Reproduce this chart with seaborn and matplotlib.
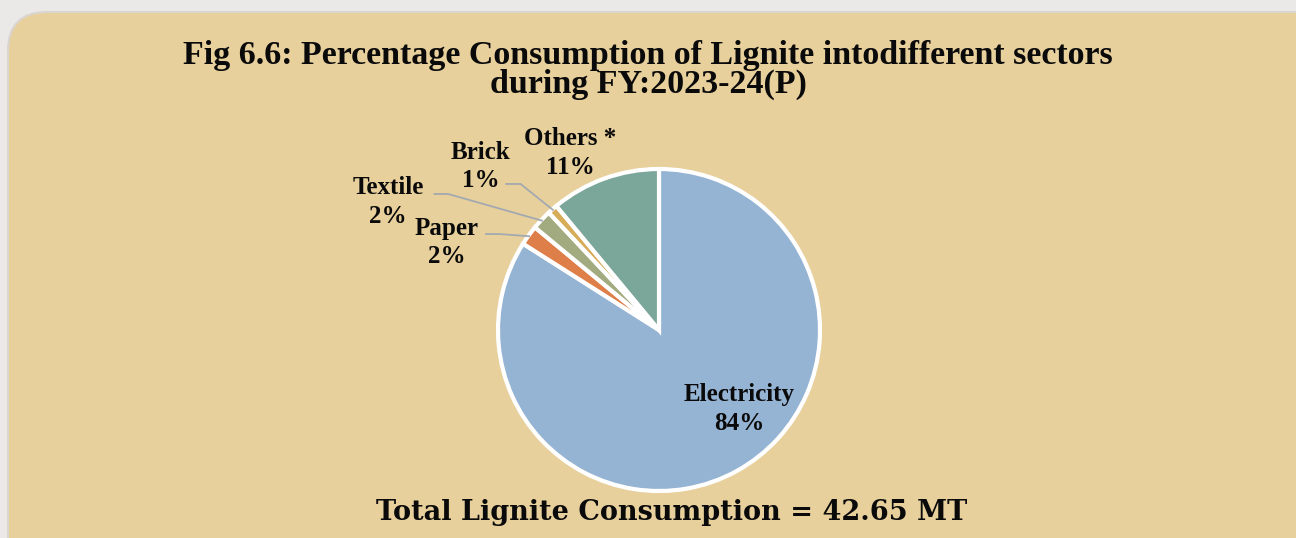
import numpy as np
import seaborn as sns
import matplotlib.pyplot as plt
from matplotlib.patches import FancyBboxPatch

# data
sectors = ["Electricity", "Paper", "Textile", "Brick", "Others *"]
shares = [84, 2, 2, 1, 11]
colors = ["#95B3D3", "#DE7E48", "#A2AA7F", "#D6AC58", "#7BA69A"]

title = "Fig 6.6: Percentage Consumption of Lignite intodifferent sectors\nduring FY:2023-24(P)"
footer = "Total Lignite Consumption = 42.65 MT"

sns.set_theme(style="white")
plt.rcParams["font.family"] = ["Liberation Serif", "DejaVu Serif"]

W, H = 1296, 538
fig = plt.figure(figsize=(W / 100, H / 100), dpi=100)
fig.patch.set_facecolor("#EBE8E8")

# tan rounded panel, behind the axes
panel = FancyBboxPatch((8 / W, -0.1), 1.2, (H - 12) / H + 0.1,
                       boxstyle="round,pad=0,rounding_size=0.03",
                       transform=fig.transFigure, facecolor="#E8D09C",
                       edgecolor="#D9D5CF", linewidth=1.5, mutation_aspect=W / H,
                       zorder=-5)
fig.patches.append(panel)

# axes in units of pie radius, pie centre at (659, 330) px, radius 161 px
cx, cy, R = 659, 330, 161
ax = fig.add_axes([0, 0, 1, 1])
ax.patch.set_alpha(0)

wedges, _ = ax.pie(shares, colors=colors, startangle=90, counterclock=False,
                   radius=1, wedgeprops=dict(edgecolor="white", linewidth=3))
ax.set_aspect("auto")
ax.set_xlim(-cx / R, (W - cx) / R)
ax.set_ylim(-(H - cy) / R, cy / R)
ax.axis("off")

def mid(w, r=1.0):
    a = np.deg2rad((w.theta1 + w.theta2) / 2)
    return r * np.cos(a), r * np.sin(a)

lab_kw = dict(ha="center", va="center", fontsize=18, fontweight="bold",
              color="#0A0A0A", linespacing=1.3)

def lbl(i):
    return f"{sectors[i]}\n{shares[i]}%"

# Electricity inside
ax.text(0.497, -0.49, lbl(0), **lab_kw)
# Others above
ax.text(-0.553, 1.10, lbl(4), **lab_kw)

# labels with leader lines: (label pos, line start, elbow)
leaders = {
    1: ((-1.317, 0.545), (-1.08, 0.596), (-0.99, 0.596)),
    2: ((-1.683, 0.795), (-1.40, 0.845), (-1.31, 0.845)),
    3: ((-1.106, 1.015), (-0.955, 0.907), (-0.86, 0.907)),
}
for i, (pos, start, elbow) in leaders.items():
    ax.text(*pos, lbl(i), **lab_kw)
    mx, my = mid(wedges[i], 0.99)
    ax.plot([start[0], elbow[0], mx], [start[1], elbow[1], my],
            color="#A3A9B0", linewidth=1.3, solid_capstyle="butt")

fig.text(0.5, 1 - 70 / H, title, ha="center", va="center", fontsize=24.5,
         fontweight="bold", color="#0A0A0A", linespacing=0.92)
fig.text(672 / W, 1 - 512 / H, footer, ha="center", va="center", fontsize=19.5,
         fontweight="bold", color="#0A0A0A", family=["DejaVu Serif"])

fig.savefig("out.png", dpi=100, facecolor=fig.get_facecolor())
